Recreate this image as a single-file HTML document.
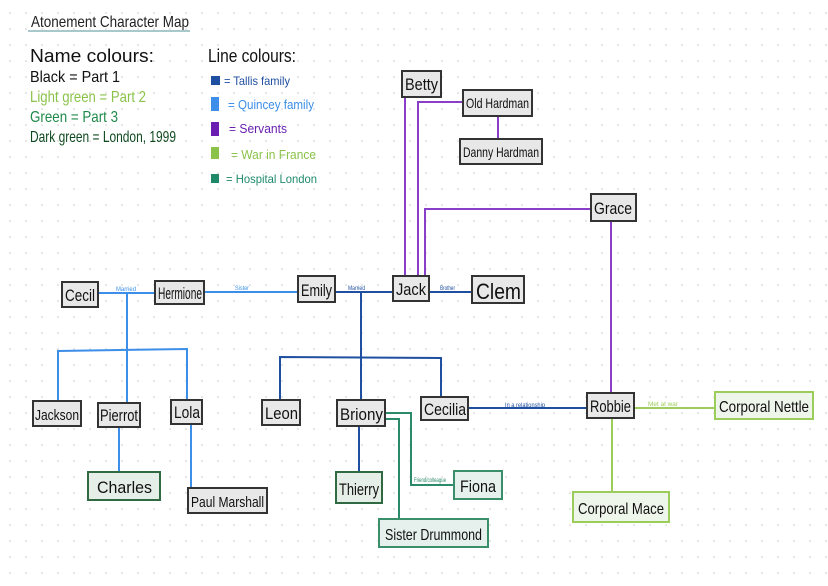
<!DOCTYPE html>
<html><head><meta charset="utf-8"><style>
html,body{margin:0;padding:0}
body{width:828px;height:586px;overflow:hidden;background:#fff;
background-image:radial-gradient(circle,#e2e2e2 0.8px,transparent 1.2px);
background-size:16px 16px;background-position:2px 5px;}
svg{position:absolute;left:0;top:0}
text{font-family:"Liberation Sans",sans-serif}
</style></head><body>
<svg width="828" height="586" viewBox="0 0 828 586">
<g lengthAdjust="spacingAndGlyphs">
<text x="31" y="27" font-size="16" fill="#222" textLength="158" lengthAdjust="spacingAndGlyphs">Atonement Character Map</text>
<line x1="28" y1="31" x2="190" y2="31" stroke="#a8c8cc" stroke-width="2"/>
<text x="30" y="62" font-size="18" fill="#111" textLength="124" lengthAdjust="spacingAndGlyphs">Name  colours:</text>
<text x="30" y="82" font-size="16" fill="#111" textLength="90" lengthAdjust="spacingAndGlyphs">Black = Part 1</text>
<text x="30" y="102" font-size="16" fill="#8bc34a" textLength="116" lengthAdjust="spacingAndGlyphs">Light green = Part 2</text>
<text x="30" y="122" font-size="16" fill="#1e8a4a" textLength="88" lengthAdjust="spacingAndGlyphs">Green = Part 3</text>
<text x="30" y="142" font-size="16" fill="#0f4a1f" textLength="146" lengthAdjust="spacingAndGlyphs">Dark green = London, 1999</text>
<text x="208" y="62" font-size="18" fill="#111" textLength="88" lengthAdjust="spacingAndGlyphs">Line  colours:</text>
<rect x="211" y="76" width="9" height="9" fill="#1f4fa0"/><text x="224" y="85" font-size="12" fill="#1f4fa0" textLength="66" lengthAdjust="spacingAndGlyphs">= Tallis family</text>
<rect x="211" y="97" width="8" height="14" fill="#3c8ee8"/><text x="228" y="109" font-size="13" fill="#3c8ee8" textLength="86" lengthAdjust="spacingAndGlyphs">= Quincey  family</text>
<rect x="211" y="122" width="8" height="14" fill="#6a1fb0"/><text x="229" y="133" font-size="13" fill="#6a1fb0" textLength="58" lengthAdjust="spacingAndGlyphs">= Servants</text>
<rect x="211" y="147" width="8" height="12" fill="#8bc34a"/><text x="231" y="159" font-size="13" fill="#8bc34a" textLength="85" lengthAdjust="spacingAndGlyphs">= War  in  France</text>
<rect x="211" y="174" width="8" height="9" fill="#1e8a6a"/><text x="226" y="183" font-size="12" fill="#1e8a6a" textLength="91" lengthAdjust="spacingAndGlyphs">= Hospital London</text>
</g>

<g fill="none" stroke-width="2">
<g stroke="#3c8ee8">
<line x1="98" y1="293" x2="155" y2="293"/>
<line x1="204" y1="292" x2="298" y2="292"/>
<line x1="127" y1="293" x2="127" y2="403"/>
<polyline points="58,401 58,351 187,349 187,400"/>
<line x1="119" y1="427" x2="119" y2="472"/>
<line x1="191" y1="424" x2="191" y2="488"/>
</g>
<g stroke="#1f4fa0">
<line x1="335" y1="292" x2="393" y2="292"/>
<line x1="429" y1="292" x2="472" y2="292"/>
<line x1="361" y1="292" x2="361" y2="400"/>
<polyline points="280,400 280,357 441,358 441,397"/>
<line x1="359" y1="426" x2="359" y2="472"/>
<line x1="468" y1="408" x2="587" y2="408"/>
</g>
<g stroke="#8a3fc8">
<line x1="405" y1="97" x2="405" y2="276"/>
<polyline points="463,102 418,102 418,276"/>
<polyline points="591,209 425,209 425,276"/>
<line x1="498" y1="116" x2="498" y2="139"/>
<line x1="611" y1="221" x2="611" y2="393"/>
</g>
<g stroke="#9ccc5a">
<line x1="634" y1="408" x2="715" y2="408"/>
<line x1="612" y1="418" x2="612" y2="492"/>
</g>
<g stroke="#2a8a6a">
<polyline points="385,413 411,413 411,485 454,485"/>
<polyline points="385,419 399,419 399,519"/>
</g>
</g>

<g font-size="6">
<text x="116" y="291" fill="#3c8ee8" textLength="20" lengthAdjust="spacingAndGlyphs">Married</text>
<text x="235" y="290" fill="#3c8ee8" textLength="14" lengthAdjust="spacingAndGlyphs">Sister</text>
<text x="348" y="290" fill="#1f4fa0" textLength="17" lengthAdjust="spacingAndGlyphs">Married</text>
<text x="440" y="290" fill="#1f4fa0" textLength="15" lengthAdjust="spacingAndGlyphs">Brother</text>
<text x="505" y="407" fill="#1f4fa0" textLength="40" lengthAdjust="spacingAndGlyphs">In a relationship</text>
<text x="648" y="406" fill="#9ccc5a" textLength="30" lengthAdjust="spacingAndGlyphs">Met at war</text>
<text x="414" y="482" fill="#2a8a6a" textLength="32" lengthAdjust="spacingAndGlyphs">Friend/colleague</text>
</g>

<g stroke-width="2">
<g fill="#e8e8e8" stroke="#333">
<rect x="62" y="282" width="36" height="25"/>
<rect x="155" y="281" width="49" height="23"/>
<rect x="298" y="276" width="37" height="26"/>
<rect x="393" y="276" width="36" height="25"/>
<rect x="472" y="276" width="52" height="27"/>
<rect x="402" y="71" width="39" height="26"/>
<rect x="463" y="90" width="69" height="26"/>
<rect x="460" y="139" width="82" height="25"/>
<rect x="591" y="194" width="45" height="27"/>
<rect x="33" y="401" width="48" height="25"/>
<rect x="98" y="403" width="42" height="24"/>
<rect x="171" y="400" width="31" height="24"/>
<rect x="262" y="400" width="38" height="25"/>
<rect x="337" y="400" width="48" height="26"/>
<rect x="421" y="397" width="47" height="23"/>
<rect x="587" y="393" width="47" height="25"/>
<rect x="188" y="488" width="79" height="25"/>
</g>
<g fill="#e6efe7" stroke="#2f6a42">
<rect x="88" y="472" width="72" height="28"/>
<rect x="336" y="472" width="46" height="31"/>
</g>
<g fill="#e6f0ec" stroke="#3a8e6a">
<rect x="454" y="471" width="48" height="28"/>
<rect x="379" y="519" width="109" height="28"/>
</g>
<g fill="#eef5ea" stroke="#9ccc5a">
<rect x="715" y="392" width="98" height="27"/>
<rect x="573" y="492" width="96" height="30"/>
</g>
</g>

<g font-size="17" fill="#111">
<text x="65" y="301" textLength="30" lengthAdjust="spacingAndGlyphs">Cecil</text>
<text x="158" y="299" textLength="44" lengthAdjust="spacingAndGlyphs">Hermione</text>
<text x="301" y="296" textLength="31" lengthAdjust="spacingAndGlyphs">Emily</text>
<text x="396" y="295" textLength="30" lengthAdjust="spacingAndGlyphs">Jack</text>
<text x="476" y="299" font-size="22" textLength="45" lengthAdjust="spacingAndGlyphs">Clem</text>
<text x="405" y="90" textLength="33" lengthAdjust="spacingAndGlyphs">Betty</text>
<text x="466" y="108" font-size="14" textLength="63" lengthAdjust="spacingAndGlyphs">Old Hardman</text>
<text x="463" y="157" font-size="14" textLength="76" lengthAdjust="spacingAndGlyphs">Danny Hardman</text>
<text x="594" y="214" textLength="38" lengthAdjust="spacingAndGlyphs">Grace</text>
<text x="35" y="420" font-size="15" textLength="44" lengthAdjust="spacingAndGlyphs">Jackson</text>
<text x="100" y="421" textLength="38" lengthAdjust="spacingAndGlyphs">Pierrot</text>
<text x="174" y="418" textLength="26" lengthAdjust="spacingAndGlyphs">Lola</text>
<text x="265" y="419" textLength="33" lengthAdjust="spacingAndGlyphs">Leon</text>
<text x="340" y="420" textLength="43" lengthAdjust="spacingAndGlyphs">Briony</text>
<text x="424" y="415" textLength="42" lengthAdjust="spacingAndGlyphs">Cecilia</text>
<text x="590" y="412" textLength="41" lengthAdjust="spacingAndGlyphs">Robbie</text>
<text x="719" y="412" font-size="16" textLength="90" lengthAdjust="spacingAndGlyphs">Corporal  Nettle</text>
<text x="97" y="493" textLength="55" lengthAdjust="spacingAndGlyphs">Charles</text>
<text x="191" y="507" font-size="15" textLength="73" lengthAdjust="spacingAndGlyphs">Paul Marshall</text>
<text x="339" y="495" textLength="40" lengthAdjust="spacingAndGlyphs">Thierry</text>
<text x="460" y="492" textLength="36" lengthAdjust="spacingAndGlyphs">Fiona</text>
<text x="385" y="540" font-size="16" textLength="97" lengthAdjust="spacingAndGlyphs">Sister  Drummond</text>
<text x="578" y="514" font-size="16" textLength="86" lengthAdjust="spacingAndGlyphs">Corporal  Mace</text>
</g>
</svg>
</body></html>
